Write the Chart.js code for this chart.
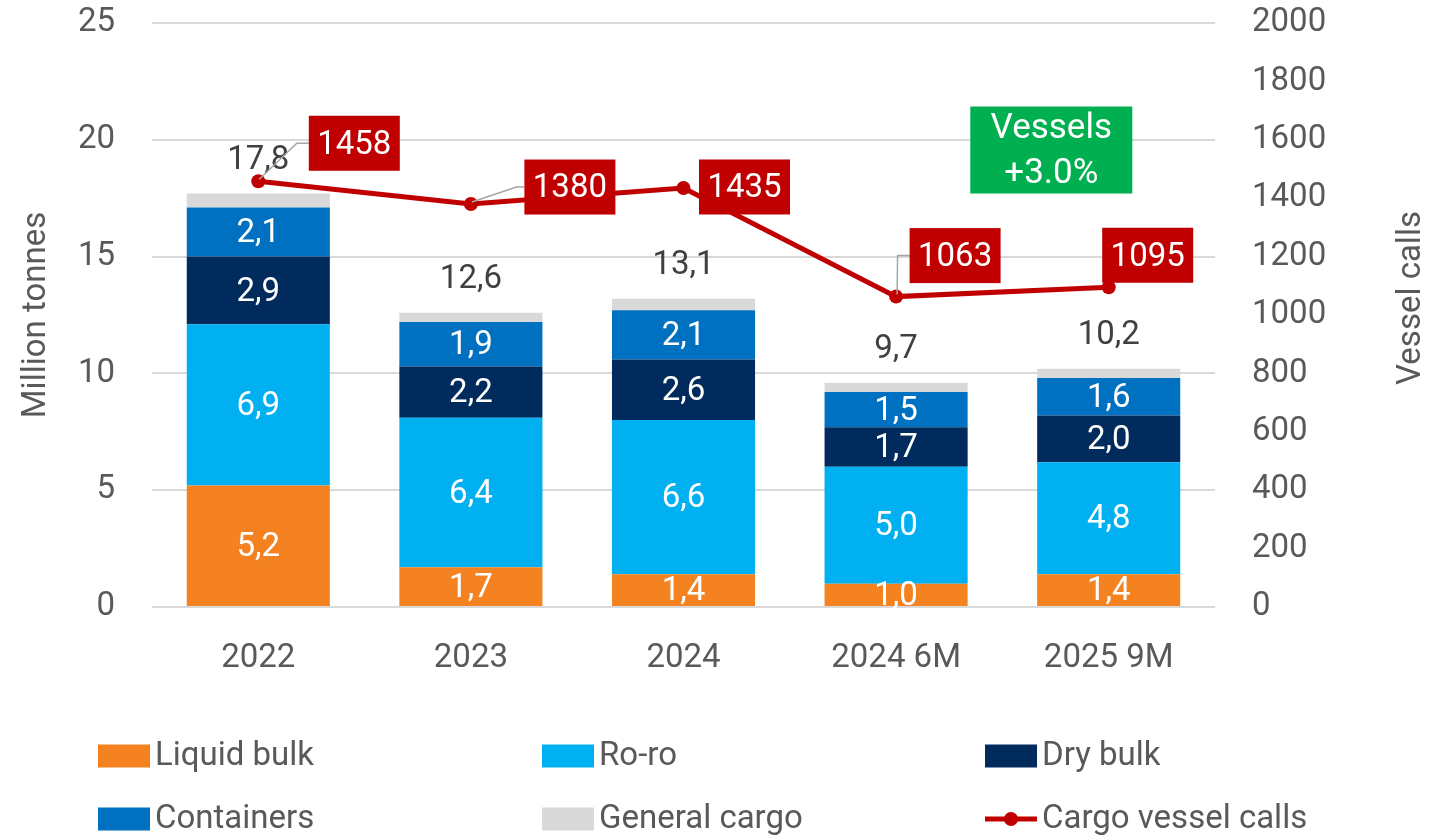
<!DOCTYPE html>
<html><head><meta charset="utf-8">
<script src="https://cdn.jsdelivr.net/npm/chart.js@4.4.1/dist/chart.umd.min.js"></script>
<style>html,body{margin:0;padding:0;background:#fff;} #wrap{width:1450px;height:840px;position:relative;}</style>
</head><body><div id="wrap"><canvas id="c" width="1450" height="840"></canvas></div>
<script>
const categories = ['2022', '2023', '2024', '2024 6M', '2025 9M'];
const liquidBulk = [5.2, 1.7, 1.4, 1.0, 1.4];
const roRo = [6.9, 6.4, 6.6, 5.0, 4.8];
const dryBulk = [2.9, 2.2, 2.6, 1.7, 2.0];
const containers = [2.1, 1.9, 2.1, 1.5, 1.6];
const generalCargo = [0.6, 0.4, 0.5, 0.4, 0.4];
const totals = [17.8, 12.6, 13.1, 9.7, 10.2];
const vesselCalls = [1458, 1380, 1435, 1063, 1095];
const leftTicks = [0, 5, 10, 15, 20, 25];
const rightTicks = [0, 200, 400, 600, 800, 1000, 1200, 1400, 1600, 1800, 2000];
const annotationLines = ['Vessels', '+3.0%'];

const FONT = 'Roboto';
const FS = 33;
const TICK_COLOR = '#595959';
const comma = v => v.toFixed(1).replace('.', ',');

// label box placement (styling, pixel offsets from the point)
const callLabelStyle = [
  {dx: 96, dy: -38, leader: true, elbow: -12},
  {dx: 99, dy: -17, leader: true, elbow: -8},
  {dx: 61, dy: -1, leader: false},
  {dx: 59, dy: -41, leader: true, elbow: -12},
  {dx: 39, dy: -32, leader: false}
];

const labelsPlugin = {
  id: 'labels',
  afterDatasetsDraw(chart) {
    const ctx = chart.ctx;
    ctx.save();
    // segment labels
    ctx.font = `${FS}px ${FONT}`;
    ctx.textAlign = 'center';
    ctx.textBaseline = 'middle';
    ctx.fillStyle = '#ffffff';
    for (let d = 0; d < 4; d++) {
      const meta = chart.getDatasetMeta(d);
      meta.data.forEach((el, i) => {
        const v = chart.data.datasets[d].data[i];
        ctx.fillText(comma(v), el.x, (el.y + el.base) / 2 + 2);
      });
    }
    // totals
    ctx.fillStyle = '#404040';
    const topMeta = chart.getDatasetMeta(4);
    topMeta.data.forEach((el, i) => {
      ctx.fillText(comma(totals[i]), el.x, el.y - 33);
    });
    // line labels
    const lineMeta = chart.getDatasetMeta(5);
    const bw = 91, bh = 55;
    lineMeta.data.forEach((pt, i) => {
      const s = callLabelStyle[i];
      const cx = pt.x + s.dx, cy = pt.y + s.dy;
      const left = cx - bw / 2;
      if (s.leader) {
        ctx.strokeStyle = '#a6a6a6';
        ctx.lineWidth = 1.5;
        ctx.beginPath();
        ctx.moveTo(pt.x + 1, pt.y - 2);
        ctx.lineTo(left + s.elbow, cy);
        ctx.lineTo(left, cy);
        ctx.stroke();
      }
    });
    lineMeta.data.forEach((pt, i) => {
      const s = callLabelStyle[i];
      const cx = pt.x + s.dx, cy = pt.y + s.dy;
      ctx.fillStyle = '#C00000';
      ctx.fillRect(cx - bw / 2, cy - bh / 2, bw, bh);
      ctx.fillStyle = '#ffffff';
      ctx.font = `${FS}px ${FONT}`;
      ctx.fillText(String(vesselCalls[i]), cx, cy + 2);
    });
    // green annotation
    const xs = chart.scales.x;
    const ax = xs.getPixelForValue(3) + 0.73 * (xs.getPixelForValue(4) - xs.getPixelForValue(3));
    const ay = chart.scales.y1.getPixelForValue(1565);
    const gw = 162, gh = 87;
    ctx.fillStyle = '#00B050';
    ctx.fillRect(ax - gw / 2, ay - gh / 2, gw, gh);
    ctx.fillStyle = '#ffffff';
    ctx.font = `35px ${FONT}`;
    ctx.fillText(annotationLines[0], ax, ay - 21);
    ctx.fillText(annotationLines[1], ax, ay + 24);
    // right axis title (reads bottom to top)
    ctx.save();
    ctx.translate(1412, 298);
    ctx.rotate(-Math.PI / 2);
    ctx.fillStyle = TICK_COLOR;
    ctx.font = `${FS}px ${FONT}`;
    ctx.fillText('Vessel calls', 0, 0);
    ctx.restore();
    // legend
    const cols = [98, 542, 985];
    const rows = [756, 819];
    ctx.textAlign = 'left';
    ctx.font = `${FS}px ${FONT}`;
    chart.data.datasets.forEach((ds, i) => {
      const x = cols[i % 3], y = rows[Math.floor(i / 3)];
      if (ds.type === 'line') {
        ctx.strokeStyle = ds.borderColor;
        ctx.lineWidth = 5;
        ctx.beginPath();
        ctx.moveTo(x, y);
        ctx.lineTo(x + 52, y);
        ctx.stroke();
        ctx.fillStyle = ds.borderColor;
        ctx.beginPath();
        ctx.arc(x + 26, y, 7, 0, Math.PI * 2);
        ctx.fill();
      } else {
        ctx.fillStyle = ds.backgroundColor;
        ctx.fillRect(x, y - 11.5, 52, 23);
      }
      ctx.fillStyle = TICK_COLOR;
      ctx.fillText(ds.label, x + 57, y + 1);
    });
    ctx.restore();
  }
};

const barDs = (label, data, color) => ({
  type: 'bar', label, data, backgroundColor: color, yAxisID: 'y', stack: 's',
  order: 1, barPercentage: 0.673, categoryPercentage: 1.0, borderWidth: 0
});

new Chart(document.getElementById('c'), {
  data: {
    labels: categories,
    datasets: [
      barDs('Liquid bulk', liquidBulk, '#F58220'),
      barDs('Ro-ro', roRo, '#00B0F0'),
      barDs('Dry bulk', dryBulk, '#002B5C'),
      barDs('Containers', containers, '#0070C0'),
      barDs('General cargo', generalCargo, '#D9D9D9'),
      {
        type: 'line', label: 'Cargo vessel calls', data: vesselCalls, yAxisID: 'y1', order: 0,
        borderColor: '#C00000', backgroundColor: '#C00000', borderWidth: 5,
        pointRadius: 7, pointHoverRadius: 7, pointBackgroundColor: '#C00000', pointBorderWidth: 0,
        tension: 0, fill: false
      }
    ]
  },
  options: {
    responsive: false,
    animation: false,
    devicePixelRatio: 1,
    layout: {padding: {top: 23, left: 0, right: 0, bottom: 0}},
    plugins: {legend: {display: false}, tooltip: {enabled: false}},
    scales: {
      x: {
        stacked: true,
        grid: {display: false, drawTicks: false},
        border: {display: false},
        ticks: {color: TICK_COLOR, font: {family: FONT, size: FS}, padding: 32, maxRotation: 0},
        afterFit: s => { s.height = 233; s.paddingLeft = 0; s.paddingRight = 0; }
      },
      y: {
        stacked: true, position: 'left', min: 0, max: 25,
        grid: {color: '#D9D9D9', lineWidth: 2, drawTicks: false},
        border: {display: false},
        ticks: {color: TICK_COLOR, font: {family: FONT, size: FS}, padding: 37},
        afterBuildTicks: s => { s.ticks = leftTicks.map(v => ({value: v})); },
        title: {display: true, text: 'Million tonnes', color: TICK_COLOR, font: {family: FONT, size: FS}, padding: {top: 17, bottom: 0}},
        afterFit: s => { s.width = 152; s.paddingTop = 0; s.paddingBottom = 0; }
      },
      y1: {
        position: 'right', min: 0, max: 2000,
        grid: {display: false, drawTicks: false},
        border: {display: false},
        ticks: {color: TICK_COLOR, font: {family: FONT, size: FS}, padding: 37, callback: v => String(v)},
        afterBuildTicks: s => { s.ticks = rightTicks.map(v => ({value: v})); },
        afterFit: s => { s.width = 235; s.paddingTop = 0; s.paddingBottom = 0; }
      }
    }
  },
  plugins: [labelsPlugin]
});
</script>
</body></html>
